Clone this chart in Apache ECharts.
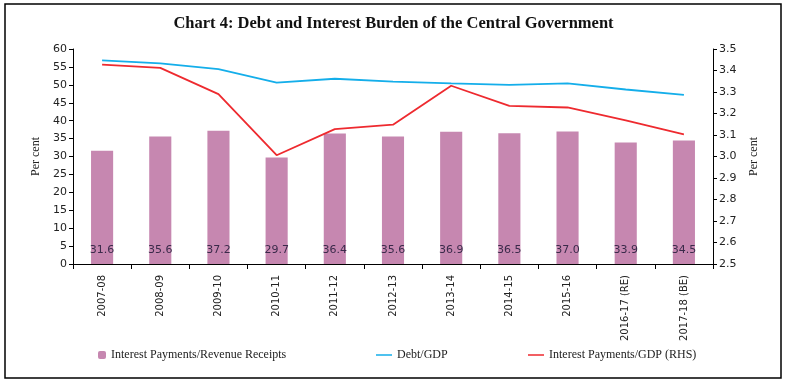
<!DOCTYPE html>
<html><head><meta charset="utf-8">
<script src="https://cdn.jsdelivr.net/npm/echarts@6/dist/echarts.min.js"></script>
<style>html,body{margin:0;padding:0;background:#fff}#c{width:787px;height:382px}</style>
</head><body><div id="c"></div>
<script>
const categories = ['2007-08','2008-09','2009-10','2010-11','2011-12','2012-13','2013-14','2014-15','2015-16','2016-17 (RE)','2017-18 (BE)'];
const interestRevenue = [31.6,35.6,37.2,29.7,36.4,35.6,36.9,36.5,37.0,33.9,34.5];
const debtGDP = [56.8,56.0,54.4,50.6,51.7,50.9,50.4,50.0,50.4,48.7,47.2];
const interestGDP = [3.427,3.412,3.290,3.006,3.127,3.148,3.329,3.235,3.228,3.168,3.103];
const seriesNames = ['Interest Payments/Revenue Receipts','Debt/GDP','Interest Payments/GDP (RHS)'];

const chart = echarts.init(document.getElementById('c'));
const axisFont = {fontFamily:'DejaVu Sans', fontSize:11, color:'#222'};
const legFont = {fontFamily:'Liberation Serif', fontSize:12, color:'#222'};
chart.setOption({
  animation:false,
  backgroundColor:'#fff',
  title:{text:'Chart 4: Debt and Interest Burden of the Central Government',left:'center',top:10,
    textStyle:{fontFamily:'Liberation Serif',fontWeight:'bold',fontSize:16.5,color:'#111'}},
  graphic:[{type:'rect',shape:{x:5,y:4,width:776,height:374},style:{fill:'none',stroke:'#000',lineWidth:1.5},silent:true}],
  legend:[
    {left:93,top:344,itemWidth:8,itemHeight:8,itemGap:6,data:[seriesNames[0]],textStyle:legFont},
    {left:371,top:344,itemWidth:16,itemHeight:8,data:[{name:seriesNames[1],icon:'path://M0,4h16v1.5h-16z'}],textStyle:legFont},
    {left:523,top:344,itemWidth:16,itemHeight:8,data:[{name:seriesNames[2],icon:'path://M0,4h16v1.5h-16z'}],textStyle:legFont}
  ],
  grid:{left:73,right:74,top:49,bottom:118},
  xAxis:{type:'category',data:categories,
    axisLine:{lineStyle:{color:'#000',width:1}},
    axisTick:{show:true,length:5,lineStyle:{color:'#000'}},
    axisLabel:{rotate:90,margin:11,interval:0,fontFamily:'DejaVu Sans',fontSize:10,color:'#222'}},
  yAxis:[
    {type:'value',min:0,max:60,interval:5,name:'Per cent',nameLocation:'middle',nameGap:27,
      nameTextStyle:{fontFamily:'Liberation Serif',fontSize:12,color:'#222'},
      axisLine:{show:true,lineStyle:{color:'#000'}},axisTick:{show:true,length:4,lineStyle:{color:'#000'}},
      splitLine:{show:false},axisLabel:Object.assign({margin:6},axisFont)},
    {type:'value',min:2.5,max:3.5,interval:0.1,name:'Per cent',nameLocation:'middle',nameGap:33,
      nameTextStyle:{fontFamily:'Liberation Serif',fontSize:12,color:'#222'},
      axisLine:{show:true,lineStyle:{color:'#000'}},axisTick:{show:true,length:4,lineStyle:{color:'#000'}},
      splitLine:{show:false},axisLabel:Object.assign({margin:6,formatter:v=>v.toFixed(1)},axisFont)}
  ],
  series:[
    {name:seriesNames[0],type:'bar',data:interestRevenue,barWidth:'38%',
      itemStyle:{color:'#C687B0'},
      label:{show:true,position:'insideBottom',distance:8,formatter:p=>p.value.toFixed(1),
        fontFamily:'DejaVu Sans',fontSize:11,color:'#3a2a4a'}},
    {name:seriesNames[1],type:'line',data:debtGDP,symbol:'none',lineStyle:{color:'#14AEEA',width:1.8},itemStyle:{color:'#14AEEA'}},
    {name:seriesNames[2],type:'line',yAxisIndex:1,data:interestGDP,symbol:'none',lineStyle:{color:'#EE2A2F',width:1.8},itemStyle:{color:'#EE2A2F'}}
  ]
});
</script></body></html>
